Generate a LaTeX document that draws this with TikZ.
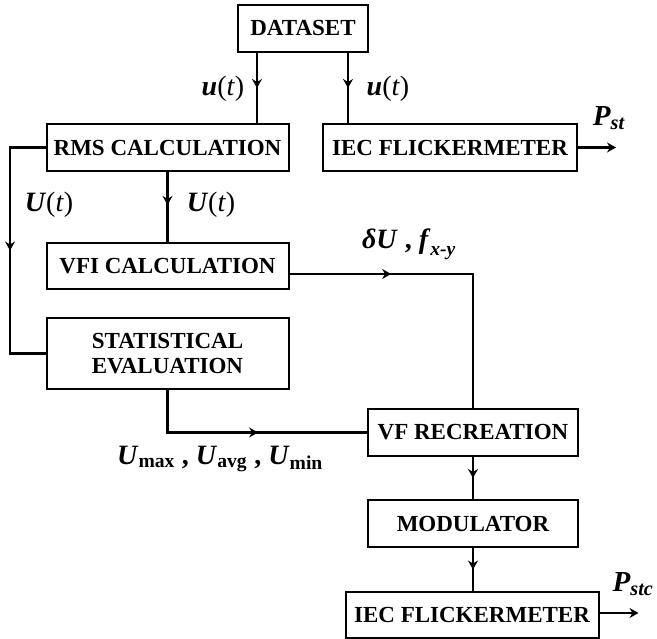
\documentclass[tikz,border=0pt]{standalone}
\usepackage{amsmath}
\usepackage{fontspec}
\setmainfont{Liberation Serif}
\usepackage{tikz}
\usetikzlibrary{arrows.meta,decorations.markings}
\newcommand{\gras}[1]{\textbf{\textit{#1}}}
\tikzset{
	bloc/.style = {draw=black, line width=2pt, align=center, inner sep=0pt,
		minimum height=47pt, font=\fontsize{23}{25}\selectfont\bfseries},% bloc de traitement
	sig/.style = {inner sep=0pt, font=\fontsize{28}{30}\selectfont},% nom du signal
	fleche/.style = {postaction={decorate}, decoration={markings,
		mark=at position #1 with {\arrow{>}}}},% fleche au milieu du trait
	fleche/.default = 0.5
}

\begin{document}
\begin{tikzpicture}[x=1pt, y=-1pt, line width=2.2pt,
		>={Stealth[length=9pt,width=10pt,inset=3pt]}]
	\useasboundingbox (0,0) rectangle (657,639);
	% blocs
	\node [bloc, minimum width=130pt] (data) at (303,28.5) {DATASET};
	\node [bloc, minimum width=242pt] (rms) at (167.5,147.5) {RMS CALCULATION};
	\node [bloc, minimum width=254pt] (iec) at (450,147.5) {IEC FLICKERMETER};
	\node [bloc, minimum width=242pt, minimum height=46pt] (vfi) at (167.5,266) {VFI CALCULATION};
	\node [bloc, minimum width=242pt, minimum height=71pt] (stat) at (167.5,353.5) {STATISTICAL\\EVALUATION};
	\node [bloc, minimum width=210pt] (vf) at (473,432.5) {VF RECREATION};
	\node [bloc, minimum width=210pt] (mod) at (473,523.5) {MODULATOR};
	\node [bloc, minimum width=253pt, minimum height=46pt] (iecb) at (472,615) {IEC FLICKERMETER};
	% points de depart et d'arrivee
	\coordinate (d1) at ([xshift=-46pt]data.south);
	\coordinate (d2) at ([xshift=45pt]data.south);
	\coordinate (vo) at ([yshift=-8pt]vfi.east);
	\coordinate (pst) at ([xshift=38pt]iec.east);
	\coordinate (pstc) at ([xshift=39pt,yshift=2pt]iecb.east);
	% liaisons
	\draw [fleche] (d1) -- (d1 |- rms.north);
	\draw [fleche] (d2) -- (d2 |- iec.north);
	\draw [fleche=0.47] (rms.south) -- (vfi.north);
	\draw [fleche] (rms.west) -- ++(-35.5,0) |- (stat.west);
	\draw [fleche=0.32] (vo) -| (vf.north);
	\draw [fleche=0.55] (stat.south) |- (vf.west);
	\draw [fleche] (vf.south) -- (mod.north);
	\draw [fleche] (mod.south) -- (mod.south |- iecb.north);
	\draw [->] (iec.east) -- (pst);
	\draw [->] ([yshift=2pt]iecb.east) -- (pstc);
	% noms des signaux
	\node [sig] (lu1) at (223,89) {\gras{u}(\textit{t})};
	\node [sig] (lu2) at (388,89) {\gras{u}(\textit{t})};
	\node [sig] (lu3) at (211,205) {\gras{U}(\textit{t})};
	\node [sig] (lu4) at (49,205) {\gras{U}(\textit{t})};
	\node [sig] (ldu) at (409,244) {\gras{δU} \textbf{,} $\gras{f}_{\gras{x-y}}$};
	\node [sig] (lumax) at (220,459) {$\gras{U}_{\textbf{max}}$\textbf{ , }$\gras{U}_{\textbf{avg}}$\textbf{ , }$\gras{U}_{\textbf{min}}$};
	\node [sig, font=\fontsize{29}{30}\selectfont] (lpst) at (609,118) {$\gras{P}_{\gras{st}}$};
	\node [sig, font=\fontsize{29}{30}\selectfont] (lpstc) at (633,584) {$\gras{P}_{\gras{stc}}$};
\end{tikzpicture}
\end{document}
